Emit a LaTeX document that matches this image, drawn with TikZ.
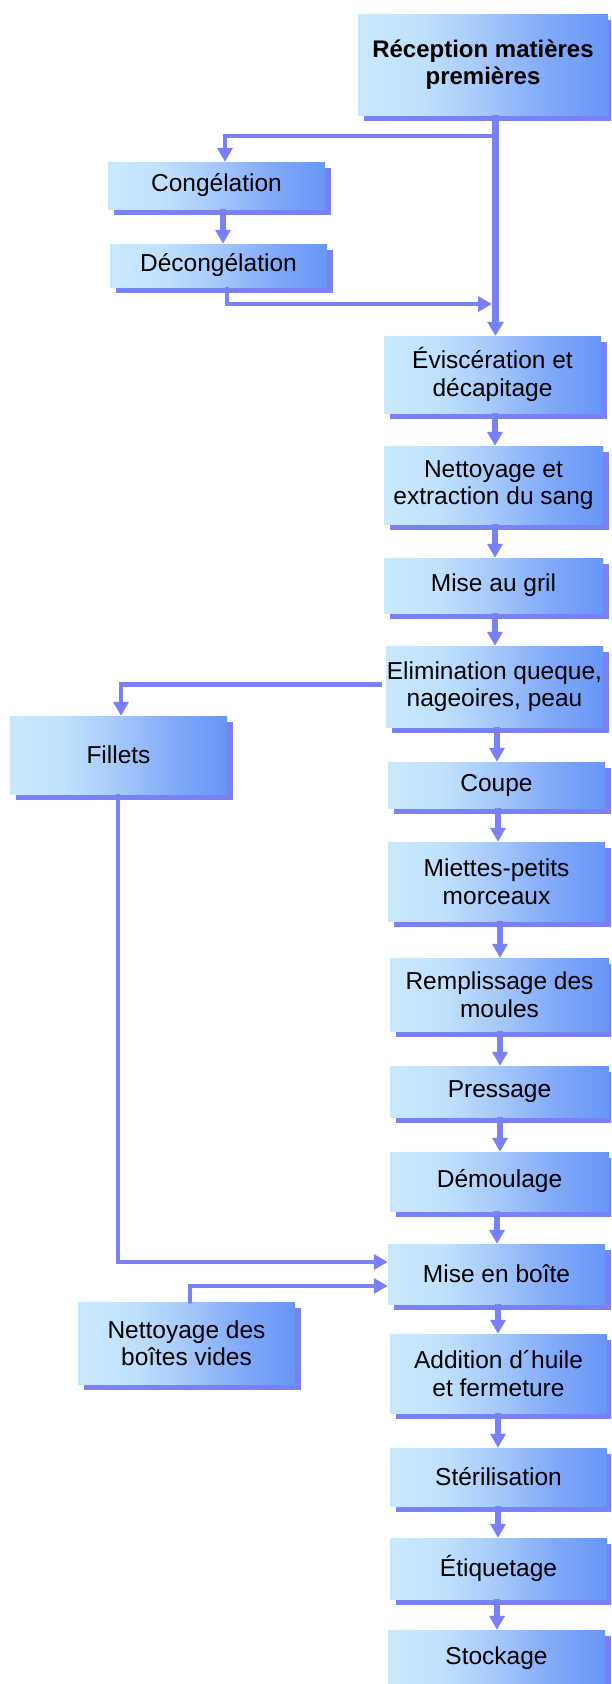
\documentclass[tikz,border=0pt]{standalone}
\usepackage{fontspec}
\setmainfont{Liberation Sans}
\usetikzlibrary{arrows.meta,shadows}

\definecolor{linec}{RGB}{122,128,246}
\definecolor{gradA}{RGB}{200,233,253}
\definecolor{gradB}{RGB}{192,225,252}
\definecolor{gradC}{RGB}{165,200,250}
\definecolor{gradD}{RGB}{130,170,248}
\definecolor{gradE}{RGB}{104,150,248}

% light cyan on the left fading to blue on the right
\pgfdeclarehorizontalshading{boxgrad}{100bp}{color(0bp)=(gradA); color(25bp)=(gradA);
  color(37.5bp)=(gradB); color(50bp)=(gradC); color(62.5bp)=(gradD);
  color(75bp)=(gradE); color(100bp)=(gradE)}

\tikzset{
  stepbox/.style={shading=boxgrad, inner sep=0pt, align=center, text=black,
    font=\fontsize{24.5}{27.5}\selectfont,
    general shadow={fill=linec, shadow xshift=6pt, shadow yshift=-5.5pt}},
  flow/.style={draw=linec, line width=5.5pt, -{Triangle[width=15pt,length=14pt]}},
  trunk/.style={draw=linec, line width=6.5pt, -{Triangle[width=16pt,length=14pt]}},
  branch/.style={draw=linec, line width=4.3pt},
  brancharrow/.style={branch, -{Triangle[width=15pt,length=14pt]}},
}

\begin{document}
\begin{tikzpicture}[x=1pt,y=-1pt]
\clip (0,0) rectangle (611,1684);
\fill[white] (0,0) rectangle (611,1684);

% main line of steps
\node[stepbox, minimum width=250pt, minimum height=101pt,
  font=\fontsize{24}{27.5}\selectfont\bfseries] (rec) at (483,64.5) {Réception matières\\premières};
\node[stepbox, minimum width=217pt, minimum height=47pt] (cong) at (216.5,185.5) {Congélation};
\node[stepbox, minimum width=217pt, minimum height=43pt] (decong) at (218.5,265.5) {Décongélation};
\node[stepbox, minimum width=217pt, minimum height=77pt] (evisc) at (492.5,374.5) {Éviscération et\\décapitage};
\node[stepbox, minimum width=219pt, minimum height=78pt] (nett) at (493.5,485) {Nettoyage et\\extraction du sang};
\node[stepbox, minimum width=219pt, minimum height=55pt] (gril) at (493.5,585.5) {Mise au gril};
\node[stepbox, minimum width=217pt, minimum height=81pt] (elim) at (494.5,686.5) {Elimination queque,\\nageoires, peau};
\node[stepbox, minimum width=217pt, minimum height=78pt] (fillets) at (118.5,755) {Fillets};
\node[stepbox, minimum width=217pt, minimum height=46pt] (coupe) at (496.5,785) {Coupe};
\node[stepbox, minimum width=217pt, minimum height=79pt] (miettes) at (496.5,881.5) {Miettes-petits\\morceaux};
\node[stepbox, minimum width=219pt, minimum height=73pt] (rempl) at (499.5,994.5) {Remplissage des\\moules};
\node[stepbox, minimum width=219pt, minimum height=51pt] (press) at (499.5,1091.5) {Pressage};
\node[stepbox, minimum width=219pt, minimum height=59pt] (demoul) at (499.5,1181.5) {Démoulage};
\node[stepbox, minimum width=217pt, minimum height=60pt] (mise) at (496.5,1274) {Mise en boîte};
\node[stepbox, minimum width=217pt, minimum height=82pt] (nettb) at (186.5,1343) {Nettoyage des\\boîtes vides};
\node[stepbox, minimum width=217pt, minimum height=79pt] (addit) at (498.5,1373.5) {Addition d´huile\\et fermeture};
\node[stepbox, minimum width=217pt, minimum height=58pt] (steril) at (498.5,1477) {Stérilisation};
\node[stepbox, minimum width=217pt, minimum height=61pt] (etiq) at (498.5,1568.5) {Étiquetage};
\node[stepbox, minimum width=217pt, minimum height=56pt] (stock) at (496.5,1658) {Stockage};

% junctions on the trunk below the reception
\coordinate (split) at (495.5,136);
\coordinate (merge) at (492,304);

% trunk and the freezing side loop
\draw[trunk] ([xshift=12.5pt]rec.south) -- ([xshift=3pt]evisc.north);
\draw[brancharrow] (split) -| ([xshift=8.5pt]cong.north);
\draw[flow] ([xshift=6.5pt]cong.south) -- ([xshift=4.5pt]decong.north);
\draw[brancharrow] ([xshift=8.5pt]decong.south) |- (merge);

% step to step
\draw[flow] ([xshift=2.5pt]evisc.south) -- ([xshift=1.5pt]nett.north);
\draw[flow] ([xshift=1.5pt]nett.south) -- ([xshift=1.5pt]gril.north);
\draw[flow] ([xshift=1.5pt]gril.south) -- ([xshift=0.5pt]elim.north);
\draw[flow] ([xshift=2.5pt]elim.south) -- ([xshift=0.5pt]coupe.north);
\draw[flow] ([xshift=1.5pt]coupe.south) -- ([xshift=1.5pt]miettes.north);
\draw[flow] ([xshift=3.5pt]miettes.south) -- ([xshift=0.5pt]rempl.north);
\draw[flow] ([xshift=0.5pt]rempl.south) -- ([xshift=0.5pt]press.north);
\draw[flow] ([xshift=0.5pt]press.south) -- ([xshift=0.5pt]demoul.north);
\draw[flow] ([xshift=-2.5pt]demoul.south) -- ([xshift=0.5pt]mise.north);
\draw[flow] ([xshift=1.5pt]mise.south) -- ([xshift=-0.5pt]addit.north);
\draw[flow] ([xshift=-0.5pt]addit.south) -- ([xshift=-0.5pt]steril.north);
\draw[flow] ([xshift=-0.5pt]steril.south) -- ([xshift=-0.5pt]etiq.north);
\draw[flow] ([xshift=-1.5pt]etiq.south) -- ([xshift=0.5pt]stock.north);

% fillets side line and empty cans feed
\draw[brancharrow] ([xshift=-4pt,yshift=2pt]elim.west) -| ([xshift=2.5pt]fillets.north);
\draw[brancharrow] ([xshift=-0.5pt]fillets.south) |- ([yshift=12pt]mise.west);
\draw[brancharrow, line cap=round] ([xshift=3.5pt]nettb.north) |- ([yshift=-12pt]mise.west);
\end{tikzpicture}
\end{document}
